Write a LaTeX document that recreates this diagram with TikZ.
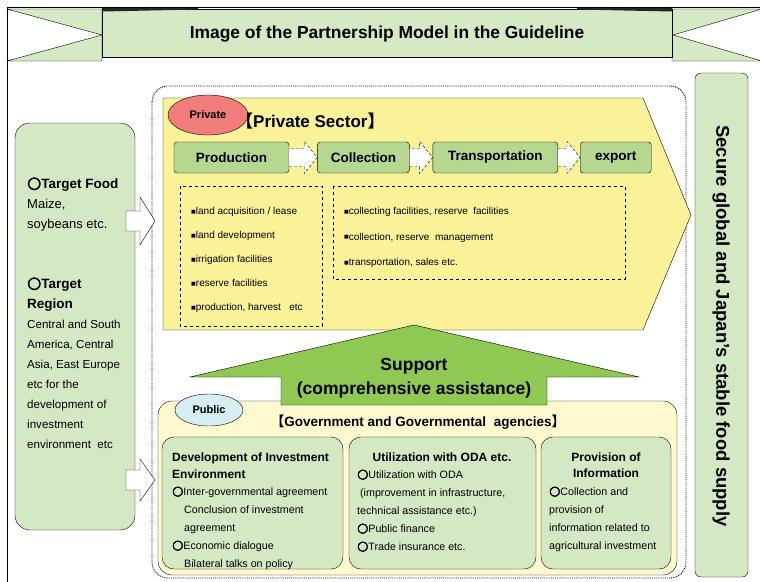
\documentclass[tikz,border=0pt]{standalone}
\usepackage{fontspec}
\setmainfont{Liberation Sans}
\newfontfamily\cjkfont{Noto Sans CJK JP}
\newfontfamily\symfont{DejaVu Sans}
\newfontfamily\ringfont[FakeBold=3]{DejaVu Sans}
\usetikzlibrary{arrows.meta,positioning,shapes.geometric}

\definecolor{bannergreen}{RGB}{213,233,197}
\definecolor{palegreen}{RGB}{213,232,196}
\definecolor{stepgreen}{RGB}{182,215,143}
\definecolor{sectoryellow}{RGB}{250,242,152}
\definecolor{publicyellow}{RGB}{255,249,207}
\definecolor{supportgreen}{RGB}{143,201,84}
\definecolor{privatered}{RGB}{240,124,124}
\definecolor{publicblue}{RGB}{214,237,242}

\newcommand{\ringmark}{{\ringfont\scalebox{1.2}{○}}}
\newcommand{\sqbullet}{\raisebox{1.3pt}{\symfont\fontsize{5}{6}\selectfont ■}}

\begin{document}
\begin{tikzpicture}[x=1pt,y=-1pt,
  every node/.style={inner sep=0pt},
  band/.style={draw,fill=bannergreen},
  panel/.style={draw,fill=palegreen,rounded corners=12pt},
  stepbox/.style={draw,fill=stepgreen,rounded corners=3pt,minimum height=31pt,font=\bfseries\fontsize{13.5}{15}\selectfont},
  steparrow/.style={draw,dash pattern=on 3pt off 2pt,fill=white},
  blockarrow/.style={draw,fill=white},
  notebox/.style={draw,dashed,thin},
  itemtext/.style={anchor=base west,font=\fontsize{10}{12}\selectfont},
  boxtext/.style={anchor=base west,font=\fontsize{10.7}{12}\selectfont},
  boxhead/.style={anchor=base,font=\bfseries\fontsize{12}{14}\selectfont},
  sidetext/.style={anchor=base west,font=\fontsize{13}{15}\selectfont},
  sidehead/.style={anchor=base west,font=\bfseries\fontsize{13.5}{15}\selectfont},
  sectortag/.style={ellipse,draw,font=\bfseries\fontsize{11}{13}\selectfont}
]
\useasboundingbox (0,0) rectangle (760,581);

% frame and banner
\draw (7,600) -- (7,7) -- (765,7);
\filldraw[band] (7,9) -- (102,9) -- (102,61) -- (7,61) -- (102,35) -- cycle;
\filldraw[band] (672,9) -- (762,9) -- (673,35) -- (762,61) -- (672,61) -- cycle;
\filldraw[band] (102,9) rectangle (672,57);
\fill[black!85] (102,8) -- (198,8) -- (198,9.5) -- (102,11.5) -- cycle;
\fill[black!85] (577,8) -- (672,8) -- (672,11.5) -- (577,9.5) -- cycle;
\node[font=\bfseries\fontsize{17.4}{20}\selectfont] (title) at (387,34) {Image of the Partnership Model in the Guideline};

% outer regions
\draw[densely dotted,line width=0.9pt,rounded corners=16pt] (152,86) rectangle (686,578);
\filldraw[panel,rounded corners=15pt] (15,123) rectangle (135,530);
\filldraw[panel,rounded corners=6pt] (695,73) rectangle (748,577);
\node[rotate=-90,font=\bfseries\fontsize{18.5}{21}\selectfont] (goal) at (721,326) {Secure global and Japan's stable food supply};

% inputs from the left
\foreach \c/\h in {221/24,480/21}
  \filldraw[blockarrow] (126,\c-10) -- (140,\c-10) -- (140,\c-\h) -- (155,\c) -- (140,\c+\h) -- (140,\c+10) -- (126,\c+10) -- cycle;
\node[sidehead] (food) at (27,188) {\ringmark Target Food};
\node[sidetext] (food1) at (27,208) {Maize,};
\node[sidetext] (food2) at (27,228) {soybeans etc.};
\node[sidehead] (region) at (27,288) {\ringmark Target};
\node[sidehead] (region0) at (27,308) {Region};
\foreach \t [count=\i] in {Central and South,{America, Central},{Asia, East Europe},etc for the,development of,investment,environment\ \ etc}
  \node[sidetext,font=\fontsize{11.6}{13}\selectfont] (region\i) at (27,308+20*\i) {\t};

% private sector
\filldraw[fill=sectoryellow] (163,98) -- (643,98) -- (691,215) -- (643,330) -- (163,330) -- cycle;
\node[sectortag,fill=privatered,minimum width=80pt,minimum height=40pt] (private) at (208,115) {Private};
\node[anchor=west,font=\bfseries\fontsize{17}{20}\selectfont] (privtitle) at (236,121) {{\cjkfont 【}Private Sector{\cjkfont 】}};
\node[stepbox,minimum width=115pt] (prod) at (231.5,157.5) {Production};
\node[stepbox,minimum width=92pt,right=28pt of prod] (coll) {Collection};
\node[stepbox,minimum width=125pt,right=23pt of coll] (trans) {Transportation};
\node[stepbox,minimum width=71pt,right=22pt of trans] (exp) {export};
\foreach \a/\b in {prod/coll,coll/trans,trans/exp}
  \draw[steparrow] ([yshift=-9pt]\a.east) -- ([xshift=-13pt,yshift=-9pt]\b.west) -- ([xshift=-13pt,yshift=-16pt]\b.west) -- (\b.west)
    -- ([xshift=-13pt,yshift=16pt]\b.west) -- ([xshift=-13pt,yshift=9pt]\b.west) -- ([yshift=9pt]\a.east);
\draw[notebox] (180,186) rectangle (322,326);
\draw[notebox] (333,186) rectangle (625,279);
\foreach \t [count=\i] in {land acquisition / lease,land development,irrigation facilities,reserve facilities,{production, harvest\ \ \ etc}}
  \node[itemtext] (prodnote\i) at (191,190.5+24*\i) {\sqbullet\t};
\foreach \t [count=\i] in {{collecting facilities, reserve\ \ facilities},{collection, reserve\ \ management},{transportation, sales etc.}}
  \node[itemtext] (collnote\i) at (344,189+25.5*\i) {\sqbullet\t};

% public sector
\filldraw[fill=publicyellow,rounded corners=14pt] (158,401) rectangle (677,575);
\filldraw[fill=supportgreen] (414,325) -- (639,377) -- (547,377) -- (547,405) -- (281,405) -- (281,377) -- (190,377) -- cycle;
\node[font=\bfseries\fontsize{17.5}{20}\selectfont] (support) at (414,366) {Support};
\node[font=\bfseries\fontsize{17.5}{20}\selectfont] (assist) at (414,390) {(comprehensive assistance)};
\node[sectortag,fill=publicblue,minimum width=68pt,minimum height=32pt] (public) at (209,410) {Public};
\node[font=\bfseries\fontsize{13.5}{15}\selectfont] (govtitle) at (418,422) {{\cjkfont 【}Government and Governmental\ \ agencies{\cjkfont 】}};

\filldraw[panel] (162,437) rectangle (343,569);
\filldraw[panel] (349,437) rectangle (536,569);
\filldraw[panel] (541,437) rectangle (671,569);

\node[boxhead,anchor=base west] (invhead) at (172,461) {Development of Investment};
\node[boxhead,anchor=base west] (invhead2) at (172,478) {Environment};
\foreach \t [count=\i] in {\ringmark Inter-governmental agreement,\hspace{12pt}Conclusion of investment,\hspace{12pt}agreement,\ringmark Economic dialogue,\hspace{12pt}Bilateral talks on policy}
  \node[boxtext] (inv\i) at (172,477+18*\i) {\t};

\node[boxhead] (odahead) at (442,461) {Utilization with ODA etc.};
\foreach \t [count=\i] in {\ringmark Utilization with ODA,{\ (improvement in infrastructure,},technical assistance etc.),\ringmark Public finance,\ringmark Trade insurance etc.}
  \node[boxtext] (oda\i) at (357,460+18*\i) {\t};

\node[boxhead] (infohead) at (606,461) {Provision of};
\node[boxhead] (infohead2) at (606,477) {Information};
\foreach \t [count=\i] in {\ringmark Collection and,provision of,information related to,agricultural investment}
  \node[boxtext] (info\i) at (549,477+18*\i) {\t};
\end{tikzpicture}
\end{document}
